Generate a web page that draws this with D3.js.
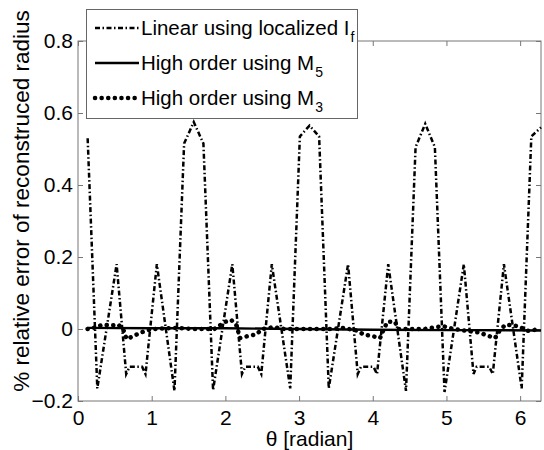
<!DOCTYPE html>
<html>
<head>
<meta charset="utf-8">
<script src="https://cdn.jsdelivr.net/npm/d3@7"></script>
<style>
  body { margin: 0; background: #fff; }
  text { font-family: "Liberation Sans", Arial, sans-serif; fill: #000; }
</style>
</head>
<body>
<div id="chart"></div>
<script>
var svgWidth = 544;
var svgHeight = 450;

var margin = { top: 41, right: 3, bottom: 49, left: 78 };
var width = svgWidth - margin.left - margin.right;
var height = svgHeight - margin.top - margin.bottom;

// Linear using localized I_f  (theta, value)
var linearTheta = [0.131, 0.262, 0.524, 0.654, 0.700, 0.870, 0.916, 1.07, 1.309, 1.440, 1.571, 1.702,
  1.833, 2.094, 2.225, 2.270, 2.440, 2.487, 2.63, 2.880, 3.011, 3.142, 3.272,
  3.403, 3.665, 3.796, 3.840, 4.010, 4.058, 4.21, 4.451, 4.581, 4.712, 4.843,
  4.974, 5.236, 5.367, 5.410, 5.580, 5.629, 5.78, 6.021, 6.152, 6.283];
var linearValue = [0.53, -0.165, 0.18, -0.125, -0.105, -0.105, -0.125, 0.18, -0.172, 0.515, 0.575, 0.515,
  -0.17, 0.18, -0.125, -0.105, -0.105, -0.125, 0.18, -0.165, 0.535, 0.565, 0.535,
  -0.165, 0.18, -0.125, -0.105, -0.105, -0.125, 0.18, -0.172, 0.505, 0.57, 0.505,
  -0.175, 0.18, -0.125, -0.105, -0.105, -0.125, 0.18, -0.165, 0.535, 0.56];

// High order using M_5
var m5Theta = [0.13, 1.0, 2.0, 3.0, 4.0, 5.0, 6.283];
var m5Value = [0.003, 0.002, 0.002, 0.0, -0.002, -0.003, -0.004];

// High order using M_3
var m3Theta = [0.13, 0.25, 0.33, 0.45, 0.55, 0.62, 0.66, 0.75, 0.85, 0.95, 1.05, 1.3, 1.57, 1.85,
  2.0, 2.08, 2.15, 2.2, 2.3, 2.42, 2.5, 2.65, 2.8, 3.14, 3.45, 3.6, 3.8, 3.87, 4.0, 4.1,
  4.15, 4.2, 4.3, 4.35, 4.7, 4.95, 5.1, 5.45, 5.55, 5.66, 5.72, 5.8, 5.92, 6.0, 6.1, 6.283];
var m3Value = [0.0, 0.005, 0.012, 0.01, 0.012, -0.005, -0.028, -0.02, -0.01, -0.003, 0.0, 0.003, 0.0, 0.0,
  0.02, 0.025, 0.01, -0.025, -0.02, -0.015, 0.0, 0.005, 0.0, 0.0, 0.0, 0.003, -0.005, -0.015, -0.02, -0.025,
  0.0, 0.02, 0.02, 0.0, 0.0, 0.008, 0.0, -0.01, -0.018, -0.025, -0.005, 0.012, 0.01, 0.005, -0.005, 0.0];

var xTicks = [0, 1, 2, 3, 4, 5, 6];
var yTicks = [-0.2, 0, 0.2, 0.4, 0.6, 0.8];

var svg = d3.select("#chart")
  .append("svg")
  .attr("width", svgWidth)
  .attr("height", svgHeight);

var chartGroup = svg.append("g")
  .attr("transform", `translate(${margin.left}, ${margin.top})`);

var xScale = d3.scaleLinear().domain([0, 2 * Math.PI]).range([0, width]);
var yScale = d3.scaleLinear().domain([-0.2, 0.8]).range([height, 0]);

var axisColor = "#777";

// box
chartGroup.append("rect")
  .attr("width", width)
  .attr("height", height)
  .attr("fill", "none")
  .attr("stroke", axisColor)
  .attr("stroke-width", 1);

// axes with inward ticks
function styleAxis(g) {
  g.select(".domain").remove();
  g.selectAll(".tick line").attr("stroke", axisColor);
  g.selectAll(".tick text")
    .attr("fill", "#000")
    .style("font-size", "21px")
    .style("font-family", "'Liberation Sans', Arial, sans-serif");
}

chartGroup.append("g")
  .attr("transform", `translate(0, ${height})`)
  .call(d3.axisBottom(xScale).tickValues(xTicks).tickSize(-5).tickPadding(9).tickFormat(d3.format("d")))
  .call(styleAxis);

chartGroup.append("g")
  .call(d3.axisTop(xScale).tickValues(xTicks).tickSize(-5).tickFormat(""))
  .call(styleAxis);

chartGroup.append("g")
  .call(d3.axisLeft(yScale).tickValues(yTicks).tickSize(-5).tickPadding(5).tickFormat(d => d === 0 ? "0" : d3.format(".1f")(d)))
  .call(styleAxis);

chartGroup.append("g")
  .attr("transform", `translate(${width}, 0)`)
  .call(d3.axisRight(yScale).tickValues(yTicks).tickSize(-5).tickFormat(""))
  .call(styleAxis);

// lines
function toPoints(th, v) {
  return th.map((t, i) => [t, v[i]]);
}

var line = d3.line()
  .x(d => xScale(d[0]))
  .y(d => yScale(d[1]));

chartGroup.append("path")
  .datum(toPoints(m5Theta, m5Value))
  .attr("d", line)
  .attr("fill", "none")
  .attr("stroke", "#000")
  .attr("stroke-width", 2.4);

chartGroup.append("path")
  .datum(toPoints(m3Theta, m3Value))
  .attr("d", line)
  .attr("fill", "none")
  .attr("stroke", "#000")
  .attr("stroke-width", 4.5)
  .attr("stroke-linecap", "round")
  .attr("stroke-dasharray", "0.1 6.5");

chartGroup.append("path")
  .datum(toPoints(linearTheta, linearValue))
  .attr("d", line)
  .attr("fill", "none")
  .attr("stroke", "#000")
  .attr("stroke-width", 2.5)
  .attr("stroke-dasharray", "5 2.5 1.5 2.5");

// axis labels
svg.append("text")
  .attr("x", margin.left + width / 2)
  .attr("y", 446)
  .attr("text-anchor", "middle")
  .style("font-size", "21px")
  .text("\u03b8 [radian]");

svg.append("text")
  .attr("transform", "translate(29, 201) rotate(-90)")
  .attr("text-anchor", "middle")
  .style("font-size", "22.5px")
  .text("% relative error of reconstruced radius");

// legend
var legend = svg.append("g");
legend.append("rect")
  .attr("x", 86.5)
  .attr("y", 9.5)
  .attr("width", 271)
  .attr("height", 109)
  .attr("fill", "#fff")
  .attr("stroke", "#666")
  .attr("stroke-width", 1);

var legendItems = [
  { main: "Linear using localized I", sub: "f", dash: "5 2.5 1.5 2.5", w: 2.5, cap: "butt" },
  { main: "High order using M", sub: "5", dash: null, w: 2.4, cap: "butt" },
  { main: "High order using M", sub: "3", dash: "0.1 6.5", w: 4.5, cap: "round" }
];

legendItems.forEach(function(item, i) {
  var cy = 28 + i * 35;
  legend.append("line")
    .attr("x1", 95).attr("x2", 139)
    .attr("y1", cy).attr("y2", cy)
    .attr("stroke", "#000")
    .attr("stroke-width", item.w)
    .attr("stroke-linecap", item.cap)
    .attr("stroke-dasharray", item.dash);
  var t = legend.append("text")
    .attr("x", 141)
    .attr("y", cy + 7)
    .style("font-size", "20.5px");
  t.append("tspan").text(item.main);
  t.append("tspan")
    .attr("dy", 7)
    .attr("dx", 1)
    .style("font-size", "14px")
    .text(item.sub);
});
</script>
</body>
</html>
